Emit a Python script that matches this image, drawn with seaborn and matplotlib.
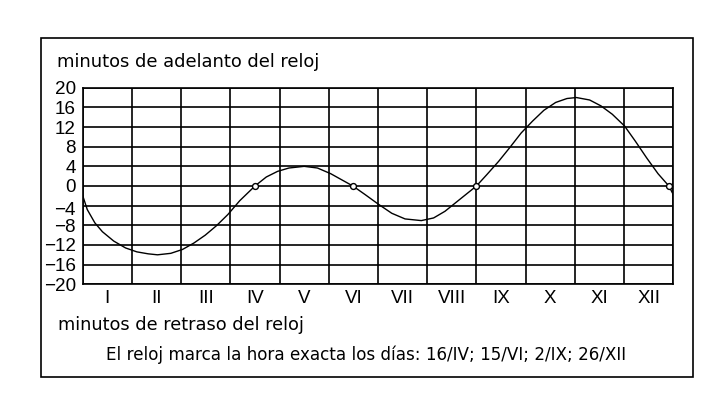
import matplotlib
matplotlib.use("Agg")
import matplotlib.pyplot as plt
import matplotlib.transforms as mtransforms
from matplotlib.patches import Rectangle
import seaborn as sns

# data (x in months from 1 Jan, y in minutes)

months = ["I", "II", "III", "IV", "V", "VI", "VII", "VIII", "IX", "X", "XI", "XII"]
curve_pos = [0.0, 0.093, 0.247, 0.40, 0.63, 0.87, 1.10, 1.33, 1.52, 1.79, 2.03, 2.26,
             2.49, 2.72, 2.95, 3.19, 3.50, 3.73, 3.96, 4.19, 4.50, 4.77, 5.04, 5.27,
             5.49, 5.74, 6.01, 6.28, 6.55, 6.88, 7.13, 7.36, 7.59, 8.0, 8.21, 8.45,
             8.68, 8.91, 9.14, 9.37, 9.61, 9.84, 10.03, 10.30, 10.53, 10.76, 11.01,
             11.23, 11.46, 11.69, 11.91, 12.0]
curve_min = [-1.96, -4.8, -7.5, -9.3, -11.2, -12.6, -13.4, -13.8, -14.0, -13.7, -12.9, -11.6,
             -10.0, -8.06, -5.8, -3.0, 0.0, 1.83, 2.98, 3.66, 4.0, 3.66, 2.5, 1.22,
             0.0, -1.76, -3.72, -5.55, -6.7, -7.04, -6.5, -5.15, -3.3, 0.0, 2.3, 5.0,
             7.85, 10.8, 13.2, 15.4, 17.0, 17.8, 18.0, 17.5, 16.3, 14.6, 12.2,
             9.1, 5.7, 2.5, 0.0, -1.76]
exact_pos = [3.5, 5.5, 8.0, 11.91]
exact_val = [0, 0, 0, 0]
y_ticks = [20, 16, 12, 8, 4, 0, -4, -8, -12, -16, -20]

sns.set_style("white")
plt.rcParams['font.family'] = ['DejaVu Sans']
plt.rcParams['text.color'] = 'black'
plt.rcParams['xtick.color'] = 'black'
plt.rcParams['ytick.color'] = 'black'
narrow = ['Liberation Sans', 'DejaVu Sans']

W, H = 718, 401
fig = plt.figure(figsize=(W / 100, H / 100), dpi=100)
ax = fig.add_axes([82.7 / W, 1 - 284.3 / H, (673.3 - 82.7) / W, (284.3 - 87.7) / H])

sns.lineplot(x=curve_pos, y=curve_min, ax=ax, color="black", linewidth=1.0)
sns.scatterplot(x=exact_pos, y=exact_val, ax=ax, marker="o", s=18, color="white",
                edgecolor="black", linewidth=1.0, zorder=5)

ax.set_xlim(0, 12)
ax.set_ylim(-20, 20)

# grid: month boundaries and every 4 minutes
ax.set_xticks(range(13))
ax.set_xticklabels([])
ax.set_xticks([i + 0.5 for i in range(12)], minor=True)
ax.set_xticklabels(months, minor=True, family=narrow, fontsize=13.5)
ax.set_yticks(y_ticks)
ax.set_yticklabels([str(v).replace("-", "\u2212") for v in y_ticks], family=narrow, fontsize=13.6)
ax.grid(True, which="major", color="black", linewidth=1.2)
ax.tick_params(which="both", length=0)
ax.tick_params(axis="x", which="minor", pad=4)
ax.tick_params(axis="y", pad=5)
for s in ax.spines.values():
    s.set_color("black")
    s.set_linewidth(1.2)

# the -4 label sits a little low in the original
for lab in ax.get_yticklabels():
    if lab.get_text() == "\u22124":
        lab.set_transform(lab.get_transform() + mtransforms.ScaledTranslation(0, -3 / 100, fig.dpi_scale_trans))

fig.text(57 / W, 1 - 66.7 / H, "minutos de adelanto del reloj", fontsize=12.9, va="baseline", ha="left")
fig.text(57.7 / W, 1 - 330 / H, "minutos de retraso del reloj", fontsize=12.8, va="baseline", ha="left")
fig.text(106 / W, 1 - 360 / H, "El reloj marca la hora exacta los días: 16/IV; 15/VI; 2/IX; 26/XII",
         fontsize=12.1, va="baseline", ha="left")

fig.patches.append(Rectangle((41 / W, 1 - 377.3 / H), (693.3 - 41) / W, (377.3 - 38.3) / H,
                             transform=fig.transFigure, fill=False, edgecolor="black", linewidth=1.2))

fig.savefig("out.png", dpi=100)
